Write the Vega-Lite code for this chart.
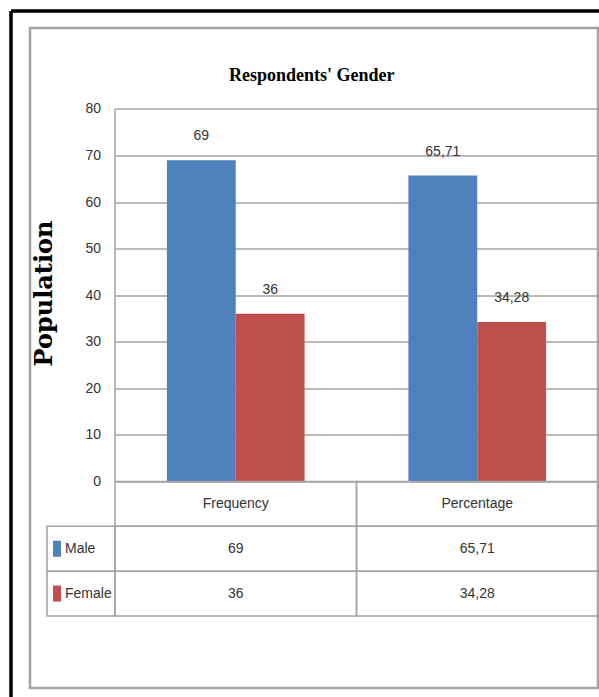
{
  "$schema": "https://vega.github.io/schema/vega-lite/v6.json",
  "width": 588.5,
  "height": 686.5,
  "autosize": {"type": "none"},
  "padding": {"left": 10.5, "top": 10.5, "right": 0, "bottom": 0},
  "background": "white",
  "title": {
    "text": "Respondents' Gender",
    "font": "Liberation Serif",
    "fontSize": 18,
    "fontWeight": "bold",
    "color": "#000000",
    "anchor": "middle",
    "frame": "group",
    "baseline": "alphabetic",
    "offset": -88.5,
    "dx": 7
  },
  "data": {
    "values": [
      {"cat": "Frequency", "gender": "Male", "value": 69},
      {"cat": "Frequency", "gender": "Female", "value": 36},
      {"cat": "Percentage", "gender": "Male", "value": 65.71},
      {"cat": "Percentage", "gender": "Female", "value": 34.28}
    ]
  },
  "layer": [
    {
      "data": {"values": [{}]},
      "mark": {"type": "rect", "filled": false, "stroke": "#a3a3a3", "strokeWidth": 2.5},
      "encoding": {
        "x": {
          "datum": "Chart", "type": "nominal",
          "scale": {"type": "band", "domain": ["Chart"], "range": [19.5, 587.5], "paddingInner": 0, "paddingOuter": 0},
          "axis": null
        },
        "y": {
          "datum": "Chart", "type": "nominal",
          "scale": {"type": "band", "domain": ["Chart"], "range": [17.5, 677.5], "paddingInner": 0, "paddingOuter": 0},
          "axis": null
        }
      }
    },
    {
      "mark": {"type": "bar"},
      "encoding": {
        "x": {
          "field": "cat", "type": "nominal", "sort": null,
          "scale": {"type": "band", "domain": ["Frequency", "Percentage"], "paddingInner": 0, "paddingOuter": 0.2184, "align": 0.9905},
          "axis": {"orient": "top", "offset": 0, "domainColor": "#000000", "domainWidth": 3.5, "labels": false, "ticks": false, "grid": false, "title": null}
        },
        "xOffset": {
          "field": "gender", "type": "nominal", "sort": null,
          "scale": {"domain": ["Male", "Female"], "paddingInner": 0, "paddingOuter": 0.754}
        },
        "y": {
          "field": "value", "type": "quantitative",
          "scale": {"domain": [-46.282, 101.154], "nice": false, "zero": false},
          "axis": {
            "orient": "left", "offset": -104.5, "values": [0, 10, 20, 30, 40, 50, 60, 70, 80],
            "domain": false, "ticks": false, "grid": false,
            "labelPadding": 14.5, "labelFont": "Liberation Sans", "labelFontSize": 14, "labelColor": "#333333",
            "title": "Population", "titleFont": "DejaVu Serif", "titleFontWeight": "bold", "titleFontSize": 24,
            "titleColor": "#000000", "titleY": 282.5, "titlePadding": 28
          }
        },
        "y2": {"datum": 0},
        "color": {
          "field": "gender", "type": "nominal",
          "scale": {"domain": ["Male", "Female"], "range": ["#4F81BD", "#C0504D"]},
          "legend": null
        }
      }
    },
    {
      "mark": {"type": "text", "baseline": "alphabetic", "dy": -20, "font": "Liberation Sans", "fontSize": 14, "color": "#333333"},
      "encoding": {
        "x": {
          "field": "cat", "type": "nominal", "sort": null,
          "scale": {"type": "band", "domain": ["Frequency", "Percentage"], "paddingInner": 0, "paddingOuter": 0.2184, "align": 0.9905},
          "axis": null
        },
        "xOffset": {
          "field": "gender", "type": "nominal", "sort": null,
          "scale": {"type": "band", "domain": ["Male", "Female"], "paddingInner": 0, "paddingOuter": 0.754}
        },
        "y": {
          "field": "value", "type": "quantitative",
          "scale": {"domain": [-46.282, 101.154], "nice": false, "zero": false},
          "axis": {"orient": "left", "offset": 0, "domainColor": "#000000", "domainWidth": 3.5, "labels": false, "ticks": false, "grid": false, "title": null}
        },
        "text": {"field": "value", "type": "quantitative", "format": "~g"}
      }
    },
    {
      "data": {"values": [{}]},
      "mark": {"type": "rule", "stroke": "#a3a3a3", "strokeWidth": 1.5},
      "encoding": {
        "x": {
          "datum": "Frequency", "type": "nominal", "bandPosition": 0,
          "scale": {"type": "band", "domain": ["Frequency", "Percentage"], "paddingInner": 0, "paddingOuter": 0.2184, "align": 0.9905},
          "axis": null
        },
        "y": {
          "datum": 80, "type": "quantitative",
          "scale": {"domain": [-46.282, 101.154], "nice": false, "zero": false},
          "axis": {
            "orient": "right", "offset": -1, "values": [0, 10, 20, 30, 40, 50, 60, 70, 80],
            "domain": false, "labels": false, "grid": false, "ticks": true,
            "tickSize": -483, "tickColor": "#a3a3a3", "tickWidth": 1.5, "title": null
          }
        },
        "y2": {"datum": 0}
      }
    },
    {
      "mark": {"type": "rect", "filled": false, "stroke": "#a3a3a3", "strokeWidth": 1.5},
      "encoding": {
        "x": {
          "field": "cat", "type": "nominal", "sort": null,
          "scale": {"type": "band", "domain": ["Frequency", "Percentage"], "paddingInner": 0, "paddingOuter": 0.2184, "align": 0.9905},
          "axis": null
        },
        "y": {
          "field": "gender", "type": "nominal", "sort": null,
          "scale": {"type": "band", "domain": ["Header", "Male", "Female"], "range": [471, 605.5], "paddingInner": 0, "paddingOuter": 0},
          "axis": null
        }
      }
    },
    {
      "mark": {"type": "text", "baseline": "middle", "font": "Liberation Sans", "fontSize": 14, "color": "#333333"},
      "encoding": {
        "x": {
          "field": "cat", "type": "nominal", "sort": null,
          "scale": {"type": "band", "domain": ["Frequency", "Percentage"], "paddingInner": 0, "paddingOuter": 0.2184, "align": 0.9905},
          "axis": null
        },
        "y": {
          "field": "gender", "type": "nominal", "sort": null,
          "scale": {"type": "band", "domain": ["Header", "Male", "Female"], "range": [471, 605.5], "paddingInner": 0, "paddingOuter": 0},
          "axis": null
        },
        "text": {"field": "value", "type": "quantitative", "format": "~g"}
      }
    },
    {
      "transform": [{"aggregate": [{"op": "count", "as": "n"}], "groupby": ["cat"]}],
      "mark": {"type": "rect", "filled": false, "stroke": "#a3a3a3", "strokeWidth": 1.5},
      "encoding": {
        "x": {
          "field": "cat", "type": "nominal", "sort": null,
          "scale": {"type": "band", "domain": ["Frequency", "Percentage"], "paddingInner": 0, "paddingOuter": 0.2184, "align": 0.9905},
          "axis": null
        },
        "y": {
          "datum": "Header", "type": "nominal",
          "scale": {"type": "band", "domain": ["Header", "Male", "Female"], "range": [471, 605.5], "paddingInner": 0, "paddingOuter": 0},
          "axis": null
        }
      }
    },
    {
      "transform": [{"aggregate": [{"op": "count", "as": "n"}], "groupby": ["cat"]}],
      "mark": {"type": "text", "baseline": "middle", "font": "Liberation Sans", "fontSize": 14, "color": "#333333"},
      "encoding": {
        "x": {
          "field": "cat", "type": "nominal", "sort": null,
          "scale": {"type": "band", "domain": ["Frequency", "Percentage"], "paddingInner": 0, "paddingOuter": 0.2184, "align": 0.9905},
          "axis": null
        },
        "y": {
          "datum": "Header", "type": "nominal",
          "scale": {"type": "band", "domain": ["Header", "Male", "Female"], "range": [471, 605.5], "paddingInner": 0, "paddingOuter": 0},
          "axis": null
        },
        "text": {"field": "cat", "type": "nominal"}
      }
    },
    {
      "transform": [{"aggregate": [{"op": "count", "as": "n"}], "groupby": ["gender"]}],
      "mark": {"type": "rect", "filled": false, "stroke": "#a3a3a3", "strokeWidth": 1.5},
      "encoding": {
        "x": {
          "datum": "Series", "type": "nominal",
          "scale": {"type": "band", "domain": ["Series"], "range": [36.5, 104.5], "paddingInner": 0, "paddingOuter": 0},
          "axis": null
        },
        "y": {
          "field": "gender", "type": "nominal", "sort": null,
          "scale": {"type": "band", "domain": ["Header", "Male", "Female"], "range": [471, 605.5], "paddingInner": 0, "paddingOuter": 0},
          "axis": null
        }
      }
    },
    {
      "transform": [{"aggregate": [{"op": "count", "as": "n"}], "groupby": ["gender"]}],
      "mark": {"type": "text", "baseline": "middle", "align": "left", "dx": -16, "font": "Liberation Sans", "fontSize": 14, "color": "#333333"},
      "encoding": {
        "x": {
          "datum": "Series", "type": "nominal",
          "scale": {"type": "band", "domain": ["Series"], "range": [36.5, 104.5], "paddingInner": 0, "paddingOuter": 0},
          "axis": null
        },
        "y": {
          "field": "gender", "type": "nominal", "sort": null,
          "scale": {"type": "band", "domain": ["Header", "Male", "Female"], "range": [471, 605.5], "paddingInner": 0, "paddingOuter": 0},
          "axis": null
        },
        "text": {"field": "gender", "type": "nominal"}
      }
    },
    {
      "transform": [{"aggregate": [{"op": "count", "as": "n"}], "groupby": ["gender"]}],
      "mark": {"type": "point", "filled": true, "opacity": 1, "size": 256, "shape": "M-0.5,-1L0.5,-1L0.5,1L-0.5,1Z", "xOffset": -24},
      "encoding": {
        "x": {
          "datum": "Series", "type": "nominal",
          "scale": {"type": "band", "domain": ["Series"], "range": [36.5, 104.5], "paddingInner": 0, "paddingOuter": 0},
          "axis": null
        },
        "y": {
          "field": "gender", "type": "nominal", "sort": null,
          "scale": {"type": "band", "domain": ["Header", "Male", "Female"], "range": [471, 605.5], "paddingInner": 0, "paddingOuter": 0},
          "axis": null
        },
        "color": {
          "field": "gender", "type": "nominal",
          "scale": {"domain": ["Male", "Female"], "range": ["#4F81BD", "#C0504D"]},
          "legend": null
        }
      }
    }
  ],
  "resolve": {
    "scale": {"x": "independent", "y": "independent", "xOffset": "independent"},
    "axis": {"x": "independent", "y": "independent"}
  },
  "config": {
    "view": {"stroke": null, "fill": "white"},
    "locale": {"number": {"decimal": ",", "thousands": ".", "grouping": [3], "currency": ["", " €"]}}
  }
}
